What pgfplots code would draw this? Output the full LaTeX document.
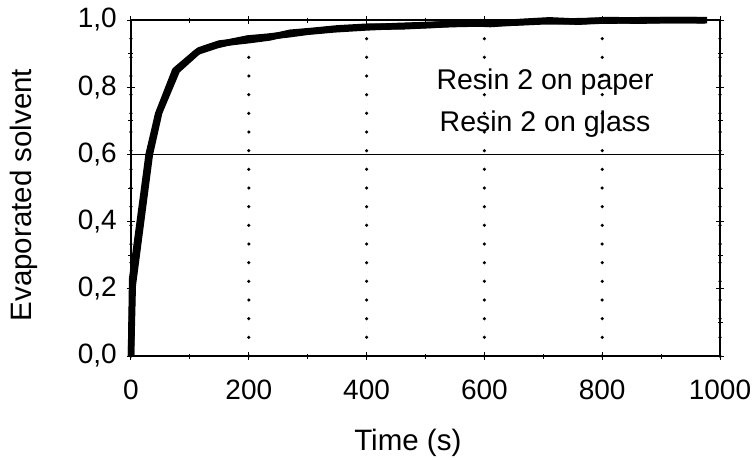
\documentclass[border=0pt]{standalone}
\usepackage{fontspec}
\setmainfont{Liberation Sans}
\usepackage{pgfplots}
\pgfplotsset{compat=1.18}
\begin{document}
\begin{tikzpicture}
\begin{axis}[
  scale only axis,
  width=589pt, height=336pt,
  xmin=0, xmax=1000, ymin=0, ymax=1,
  xtick={0,200,...,1000},
  ytick={0,0.2,...,1.0},
  minor xtick={100,300,...,900},
  minor ytick={0.1,0.3,...,0.9},
  tick align=center,
  major tick length=8pt, minor tick length=5pt,
  every tick/.style={black, line width=1pt},
  axis line style={line width=1.8pt},
  /pgf/number format/assume math mode=true,
  /pgf/number format/.cd, use comma, fixed, fixed zerofill, precision=1, /pgfplots/.cd,
  xticklabel={\pgfmathprintnumber[fixed,precision=0,fixed zerofill=false,1000 sep={}]{\tick}},
  tick label style={font=\fontsize{28}{32}\selectfont, inner sep=0pt},
  xticklabel style={anchor=north, yshift=-20pt},
  yticklabel style={anchor=east, xshift=-10pt},
  xlabel={Time (s)},
  ylabel={Evaporated solvent},
  xlabel style={font=\fontsize{29.5}{33}\selectfont, at={([yshift=-94pt]rel axis cs:0.47,0)}, anchor=base, inner sep=0pt},
  ylabel style={font=\fontsize{29.5}{33}\selectfont, at={([xshift=-99pt]rel axis cs:0,0.479)}, anchor=base, inner sep=0pt},
  xmajorgrids,
  grid style={black, line width=3.5pt, dash pattern=on 0pt off 18.667pt, line cap=round},
  legend style={draw=none, fill=none, at={(axis cs:703,0.759)}, anchor=center,
    font=\fontsize{28.5}{32}\selectfont, row sep=15pt},
  legend cell align=center,
  clip=false,
]
\addplot[black, line width=1pt, forget plot] coordinates {(0,0.6) (1000,0.6)};
\addplot[black, line width=6.5pt, line join=round, legend image code/.code={}] coordinates {
(0,0) (2,0.23) (30,0.6) (46,0.72) (75,0.85) (112,0.905) (146,0.925) (170,0.935) (198,0.945)
(230,0.95) (266,0.957) (300,0.965) (344,0.972) (400,0.978) (450,0.982) (500,0.985)
(550,0.988) (600,0.99) (650,0.992) (700,0.996) (750,0.996) (800,0.998) (850,0.999) (900,1.0) (978,1.0)};
\addlegendentry{Resin 2 on paper}
\addplot[black, line width=6.5pt, line join=round, legend image code/.code={}] coordinates {
(0,0) (3,0.21) (32,0.6) (48,0.725) (78,0.85) (116,0.91) (150,0.93) (175,0.935) (200,0.94)
(235,0.948) (270,0.962) (310,0.968) (350,0.975) (400,0.98) (460,0.981) (520,0.986)
(560,0.992) (610,0.988) (660,0.994) (710,0.999) (760,0.995) (810,1.0) (860,0.998) (920,1.0) (975,0.999)};
\addlegendentry{Resin 2 on glass}
\end{axis}
\pgfresetboundingbox
\path (-131pt,-103pt) rectangle (624pt,356pt);
\end{tikzpicture}
\end{document}
